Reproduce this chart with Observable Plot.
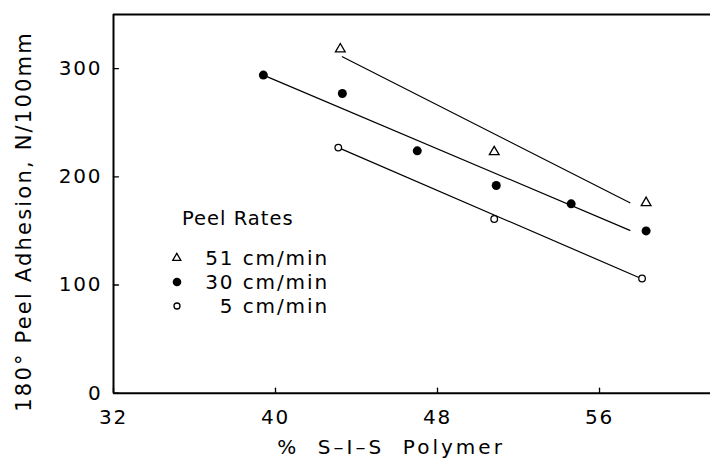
<!DOCTYPE html>
<html>
<head>
<meta charset="utf-8">
<script src="https://cdn.jsdelivr.net/npm/d3@7"></script>
<script src="https://cdn.jsdelivr.net/npm/@observablehq/plot@0.6"></script>
<style>
  html, body { margin: 0; padding: 0; background: #fff; }
  #chart svg { display: block; }
  #chart text { white-space: pre; }
</style>
</head>
<body>
<div id="chart"></div>
<script>
// ---- data ----
const xTicks = [32, 40, 48, 56];
const yTicks = [0, 100, 200, 300];
const xLabel = "%  S\u2013I\u2013S  Polymer";
const yLabel = "180\u00B0 Peel Adhesion, N/100mm";
const legendTitle = "Peel Rates";
const rateLabels = ["51 cm/min", "30 cm/min", "5 cm/min"];

// 51 cm/min (open triangles)
const pct51 = [43.2, 50.8, 58.3];
const peel51 = [318, 223, 176];
// 30 cm/min (filled circles)
const pct30 = [39.4, 43.3, 47.0, 50.9, 54.6, 58.3];
const peel30 = [294, 277, 224, 192, 175, 150];
// 5 cm/min (open circles)
const pct5 = [43.1, 50.8, 58.1];
const peel5 = [227, 161, 106];

// fitted straight lines (end points)
const fit51x = [43.3, 57.5], fit51y = [311, 176];
const fit30x = [39.4, 57.5], fit30y = [294, 150.5];
const fit5x = [43.1, 58.0], fit5y = [227, 106.5];

const zip = (xs, ys) => xs.map((x, i) => ({x, y: ys[i]}));
const tickShape = {draw(ctx, l) { ctx.moveTo(0, 0); ctx.lineTo(0, -l); }};

const font = "DejaVu Sans, sans-serif";
const legendDy = [243.5, 267.5, 291.5];

const chart = Plot.plot({
  width: 710,
  height: 458,
  marginLeft: 113,
  marginRight: 0,
  marginTop: 14,
  marginBottom: 65.3,
  style: {fontFamily: font, background: "#fff", color: "#000", overflow: "visible"},
  x: {domain: [32, 61.48]},
  y: {domain: [0, 350]},
  marks: [
    // frame (left, bottom, top)
    Plot.ruleX([32], {stroke: "#000", strokeWidth: 2}),
    Plot.ruleY([0, 350], {stroke: "#000", strokeWidth: 2}),
    // inward ticks
    Plot.vector(yTicks, {y: d => d, frameAnchor: "left", length: 5, rotate: 90, anchor: "start", shape: tickShape, stroke: "#000", strokeWidth: 1.3}),
    Plot.vector(xTicks, {x: d => d, frameAnchor: "bottom", length: 5, rotate: 0, anchor: "start", shape: tickShape, stroke: "#000", strokeWidth: 1.3}),
    // axes labels
    Plot.axisY({ticks: yTicks, tickSize: 0, tickPadding: 11, label: null, fontSize: 20}),
    Plot.axisX({ticks: xTicks, tickSize: 0, tickPadding: 16.5, label: null, fontSize: 20}),
    Plot.text([xLabel], {text: d => d, frameAnchor: "bottom", dx: -21, dy: 54, textAnchor: "middle", lineAnchor: "middle", fontSize: 20}),
    Plot.text([yLabel], {text: d => d, frameAnchor: "left", rotate: -90, dx: -89, dy: 17.6, textAnchor: "middle", lineAnchor: "middle", fontSize: 21}),
    // fit lines
    Plot.line(zip(fit51x, fit51y), {x: "x", y: "y", stroke: "#000", strokeWidth: 1.2}),
    Plot.line(zip(fit30x, fit30y), {x: "x", y: "y", stroke: "#000", strokeWidth: 1.2}),
    Plot.line(zip(fit5x, fit5y), {x: "x", y: "y", stroke: "#000", strokeWidth: 1.2}),
    // points
    Plot.dot(zip(pct51, peel51), {x: "x", y: "y", symbol: "triangle", r: 3.6, stroke: "#000", strokeWidth: 1.3, fill: "#fff"}),
    Plot.dot(zip(pct30, peel30), {x: "x", y: "y", symbol: "circle", r: 4.5, fill: "#000", stroke: "none"}),
    Plot.dot(zip(pct5, peel5), {x: "x", y: "y", symbol: "circle", r: 3.3, stroke: "#000", strokeWidth: 1.3, fill: "#fff"}),
    // legend
    Plot.text([legendTitle], {text: d => d, frameAnchor: "top-left", dx: 68.5, dy: 204, textAnchor: "start", lineAnchor: "middle", fontSize: 19.5}),
    Plot.dot([0], {frameAnchor: "top-left", dx: 63.3, dy: legendDy[0], symbol: "triangle", r: 3, stroke: "#000", strokeWidth: 1.3, fill: "#fff"}),
    Plot.dot([0], {frameAnchor: "top-left", dx: 63.5, dy: legendDy[1], symbol: "circle", r: 4.3, fill: "#000", stroke: "none"}),
    Plot.dot([0], {frameAnchor: "top-left", dx: 63.5, dy: legendDy[2], symbol: "circle", r: 3, stroke: "#000", strokeWidth: 1.3, fill: "#fff"}),
    ...rateLabels.map((t, i) => Plot.text([t], {text: d => d, frameAnchor: "top-left", dx: 215.5, dy: legendDy[i] + 0.5, textAnchor: "end", lineAnchor: "middle", fontSize: 20}))
  ]
});

// letter spacing to match the wide lettering of the reference
chart.querySelectorAll("text").forEach(el => {
  const t = el.textContent;
  let ls = "1.9";
  if (t === legendTitle) ls = "1";
  else if (t === yLabel) ls = "2.2";
  else if (t === xLabel) ls = "3";
  el.setAttribute("letter-spacing", ls);
});

document.getElementById("chart").append(chart);
</script>
</body>
</html>
